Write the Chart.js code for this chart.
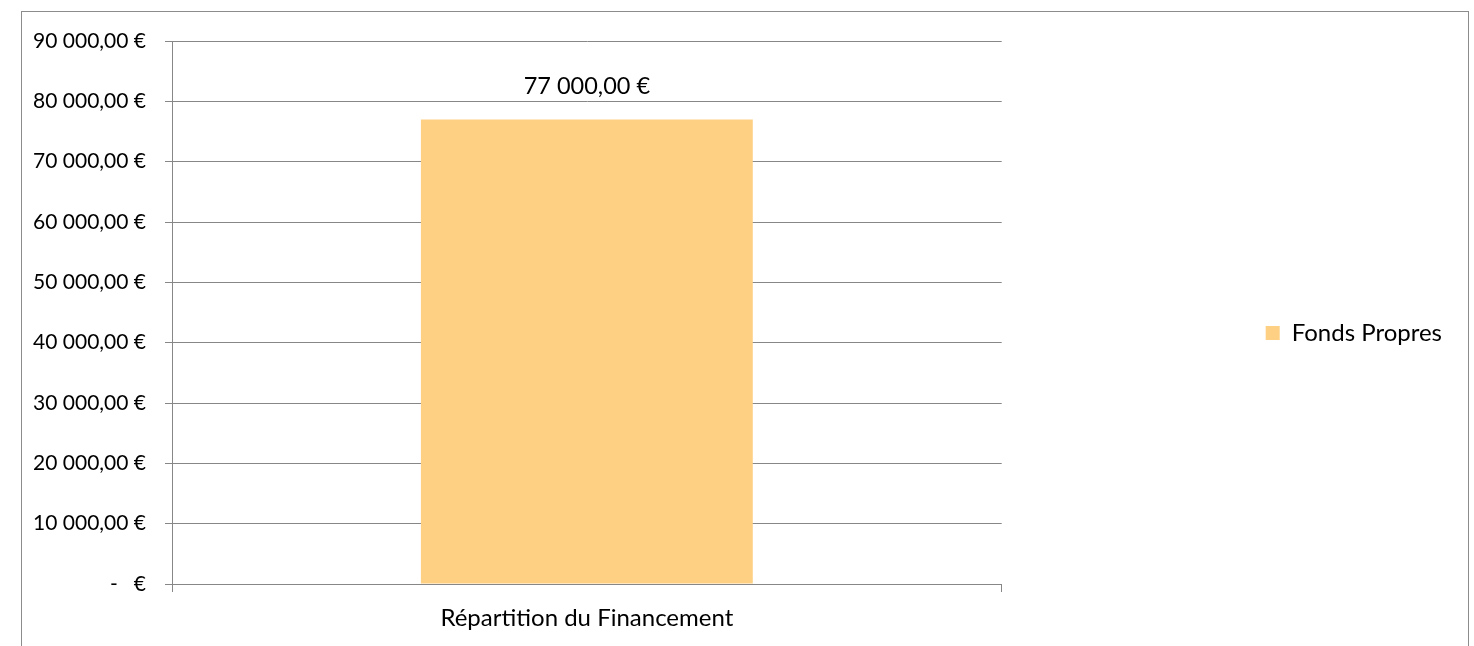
<!DOCTYPE html>
<html>
<head>
<meta charset="utf-8">
<script src="https://cdn.jsdelivr.net/npm/chart.js@4"></script>
<style>
  body { margin: 0; background: #fff; overflow: hidden; }
  #frame {
    position: absolute; left: 21px; top: 11px;
    width: 1446px; height: 700px;
    border: 1px solid #8c8c8c;
  }
  #wrap { position: absolute; left: 0; top: 0; width: 1474px; height: 646px; }
</style>
</head>
<body>
<div id="frame"></div>
<div id="wrap"><canvas id="chart"></canvas></div>
<script>
// -------------------------------------
// Data
// -------------------------------------
const categories = ["Répartition du Financement"];
const seriesName = "Fonds Propres";
const seriesValues = [77000];
const yTickValues = [0, 10000, 20000, 30000, 40000, 50000, 60000, 70000, 80000, 90000];
const yTickLabels = ["-   €", "10 000,00 €", "20 000,00 €", "30 000,00 €", "40 000,00 €",
  "50 000,00 €", "60 000,00 €", "70 000,00 €", "80 000,00 €", "90 000,00 €"];

const FONT = "Lato, 'Open Sans', sans-serif";
const GRID = "#878787";

// 77000 -> "77 000,00 €"
function fmtEuro(v) {
  const s = Math.round(v).toString().replace(/\B(?=(\d{3})+(?!\d))/g, " ");
  return s + ",00 €";
}

// value label above each bar
const barLabels = {
  id: "barLabels",
  afterDatasetsDraw(chart) {
    const ctx = chart.ctx;
    const meta = chart.getDatasetMeta(0);
    ctx.save();
    ctx.font = "23.5px " + FONT;
    ctx.fillStyle = "#000";
    ctx.textAlign = "center";
    ctx.textBaseline = "middle";
    meta.data.forEach((bar, i) => {
      ctx.fillText(fmtEuro(seriesValues[i]), bar.x, bar.y - 33);
    });
    ctx.restore();
  }
};

// blank spacer axis (no ticks, no lines)
function spacer(position, size) {
  return {
    type: "linear",
    position: position,
    grid: { display: false },
    border: { display: false },
    ticks: { display: false },
    afterFit(s) {
      if (position === "top") s.height = size; else s.width = size;
    }
  };
}

new Chart(document.getElementById("chart"), {
  type: "bar",
  data: {
    labels: categories,
    datasets: [
      {
        label: seriesName,
        data: seriesValues,
        backgroundColor: "#fdd083",
        barPercentage: 0.4,
        categoryPercentage: 1.0
      }
    ]
  },
  options: {
    responsive: true,
    maintainAspectRatio: false,
    animation: false,
    layout: { padding: { top: 20, left: 0, right: 22, bottom: 0 } },
    plugins: {
      tooltip: { enabled: false },
      legend: {
        position: "right",
        align: "center",
        labels: {
          boxWidth: 14,
          boxHeight: 14,
          color: "#000",
          font: { family: FONT, size: 24 }
        }
      }
    },
    scales: {
      x: {
        offset: true,
        grid: { offset: true, drawOnChartArea: false, drawTicks: true, tickLength: 8, color: GRID },
        border: { color: GRID },
        ticks: { color: "#000", padding: 12, font: { family: FONT, size: 24 } },
        afterFit(s) { s.height = 62; }
      },
      y: {
        min: 0,
        max: 90000,
        afterBuildTicks(s) { s.ticks = yTickValues.map(v => ({ value: v })); },
        grid: { color: GRID, tickLength: 7 },
        border: { color: GRID },
        ticks: {
          color: "#000",
          padding: 19,
          font: { family: FONT, size: 21 },
          callback: (v, i) => yTickLabels[i]
        },
        afterFit(s) { s.width = 172; }
      },
      gapTop: Object.assign(spacer("top", 21), { axis: "x" }),
      gapRight: Object.assign(spacer("right", 254), { axis: "y" })
    }
  },
  plugins: [barLabels]
});
</script>
</body>
</html>
